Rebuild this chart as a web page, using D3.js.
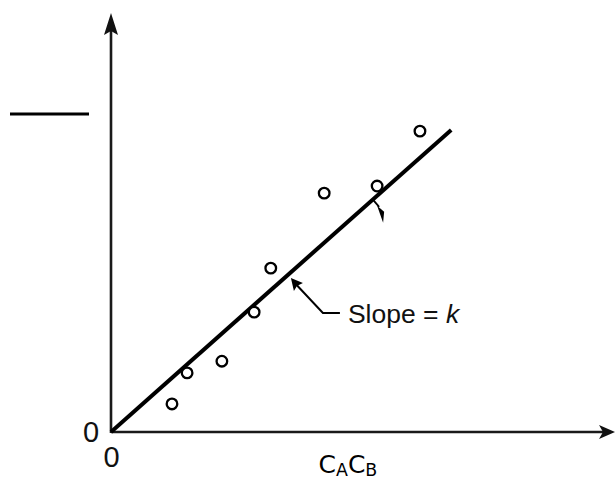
<!DOCTYPE html>
<html>
<head>
<meta charset="utf-8">
<script src="https://cdn.jsdelivr.net/npm/d3@7"></script>
<style>
  html, body { margin: 0; padding: 0; background: #fff; }
  svg { display: block; }
</style>
</head>
<body>
<svg id="chart" width="615" height="483"></svg>
<script>
// ---- data ----
const xVals = [1.21, 1.51, 2.20, 2.84, 3.17, 4.23, 5.28, 6.13];
const yVals = [0.67, 1.41, 1.69, 2.86, 3.91, 5.70, 5.87, 7.18];
const slopeK = 1.068;
const fitRange = [0, 6.75];
const xTickLabels = ["0"];
const yTickLabels = ["0"];
const xLabelMain = ["C", "C"];
const xLabelSub = ["A", "B"];
const annotation = ["Slope = ", "k"];
const leaderAt = 3.53;   // x value where the "Slope" leader points
const markAt = 5.30;     // x value of the small arrow mark

// ---- scales ----
const x = d3.scaleLinear().domain([0, 10]).range([111, 615]);
const y = d3.scaleLinear().domain([0, 10]).range([432, 13]);

const svg = d3.select("#chart");
const axisColor = "#1a1a1a";

// axes
svg.append("line")
  .attr("x1", x(0)).attr("y1", y(0)).attr("x2", x(10) - 6).attr("y2", y(0))
  .attr("stroke", axisColor).attr("stroke-width", 2.6);
svg.append("line")
  .attr("x1", x(0)).attr("y1", y(0) + 1).attr("x2", x(0)).attr("y2", y(10) + 8)
  .attr("stroke", axisColor).attr("stroke-width", 2.6);

// arrow heads
const xt = [x(10), y(0)];
svg.append("path")
  .attr("d", `M${xt[0]},${xt[1]} L${xt[0]-16},${xt[1]-7} L${xt[0]-12},${xt[1]} L${xt[0]-16},${xt[1]+7} Z`)
  .attr("fill", "#111");
const yt = [x(0), y(10)];
svg.append("path")
  .attr("d", `M${yt[0]},${yt[1]} L${yt[0]+7},${yt[1]+22} L${yt[0]},${yt[1]+18} L${yt[0]-7},${yt[1]+22} Z`)
  .attr("fill", "#111");

// fraction bar at top-left (y-axis label bar)
svg.append("line")
  .attr("x1", 10).attr("x2", 89).attr("y1", 114).attr("y2", 114)
  .attr("stroke", "#000").attr("stroke-width", 3);

// fit line
svg.append("line")
  .attr("x1", x(fitRange[0])).attr("y1", y(fitRange[0] * slopeK))
  .attr("x2", x(fitRange[1])).attr("y2", y(fitRange[1] * slopeK))
  .attr("stroke", "#000").attr("stroke-width", 4);

// points
svg.selectAll("circle.pt")
  .data(xVals.map((v, i) => [v, yVals[i]]))
  .enter().append("circle")
  .attr("class", "pt")
  .attr("cx", d => x(d[0])).attr("cy", d => y(d[1]))
  .attr("r", 5.3)
  .attr("fill", "#fff")
  .attr("stroke", "#000").attr("stroke-width", 2.3);

// leader arrow to the line
const lp = [x(leaderAt), y(leaderAt * slopeK)];
svg.append("path")
  .attr("d", `M${lp[0]+4},${lp[1]+7} L${lp[0]+34},${lp[1]+39} L${lp[0]+51},${lp[1]+39}`)
  .attr("fill", "none").attr("stroke", "#000").attr("stroke-width", 2);
svg.append("path")
  .attr("d", `M${lp[0]+2},${lp[1]+4} L${lp[0]+5},${lp[1]+17} L${lp[0]+8},${lp[1]+12} L${lp[0]+14},${lp[1]+9} Z`)
  .attr("fill", "#000");

// annotation text
const ann = svg.append("text")
  .attr("x", lp[0] + 59).attr("y", lp[1] + 49)
  .attr("font-family", "'Liberation Sans', Arial, sans-serif")
  .attr("font-size", 26.5).attr("fill", "#111");
ann.append("tspan").text(annotation[0]);
ann.append("tspan").attr("font-style", "italic").text(annotation[1]);

// small arrow mark under the line near the upper point
const mp = [x(markAt), y(markAt * slopeK)];
svg.append("path")
  .attr("d", `M${mp[0]-5},${mp[1]+5} L${mp[0]+1},${mp[1]+12}`)
  .attr("stroke", "#000").attr("stroke-width", 1.8).attr("fill", "none");
svg.append("path")
  .attr("d", `M${mp[0]-1},${mp[1]+11} L${mp[0]+6},${mp[1]+17} L${mp[0]+5},${mp[1]+28} Z`)
  .attr("fill", "#000");

// tick labels "0"
svg.append("text")
  .attr("x", x(0) - 20).attr("y", y(0) + 10)
  .attr("text-anchor", "middle")
  .attr("font-family", "'Liberation Sans', Arial, sans-serif")
  .attr("font-size", 29).attr("fill", "#111")
  .text(yTickLabels[0]);
svg.append("text")
  .attr("x", x(0) + 0.5).attr("y", y(0) + 35)
  .attr("text-anchor", "middle")
  .attr("font-family", "'Liberation Sans', Arial, sans-serif")
  .attr("font-size", 29).attr("fill", "#111")
  .text(xTickLabels[0]);

// x axis label C_A C_B
const xl = svg.append("text")
  .attr("x", 318.5).attr("y", 473)
  .attr("font-family", "'DejaVu Sans', Verdana, sans-serif")
  .attr("fill", "#000");
xLabelMain.forEach((m, i) => {
  xl.append("tspan").attr("font-size", 25).attr("dy", i === 0 ? 0 : -3).text(m);
  xl.append("tspan").attr("font-size", 17.4).attr("dy", 3).text(xLabelSub[i]);
});
</script>
</body>
</html>
